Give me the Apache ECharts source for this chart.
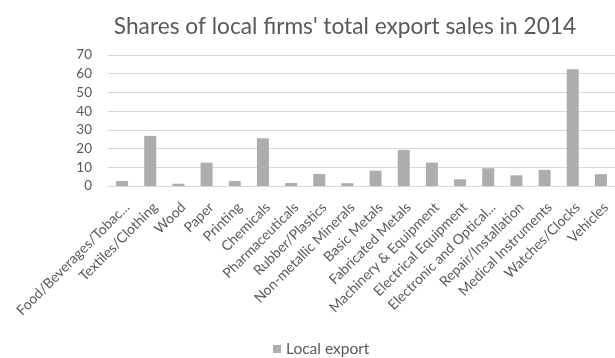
<!DOCTYPE html>
<html>
<head>
<meta charset="utf-8">
<script src="https://cdn.jsdelivr.net/npm/echarts@6/dist/echarts.min.js"></script>
<style>
  html, body { margin: 0; padding: 0; background: #fff; }
  #chart { width: 615px; height: 358px; }
</style>
</head>
<body>
<div id="chart"></div>
<script>
// Industry categories (long names shortened as in the axis labels)
const categories = [
  'Food/Beverages/Tobac...', 'Textiles/Clothing', 'Wood', 'Paper', 'Printing',
  'Chemicals', 'Pharmaceuticals', 'Rubber/Plastics', 'Non-metallic Minerals',
  'Basic Metals', 'Fabricated Metals', 'Machinery & Equipment',
  'Electrical Equipment', 'Electronic and Optical...', 'Repair/Installation',
  'Medical Instruments', 'Watches/Clocks', 'Vehicles'
];

// Share of total export sales going to local export, in percent
const localExport = [
  2.6, 26.8, 1.2, 12.5, 2.6, 25.5, 1.6, 6.4, 1.5,
  8.2, 19.3, 12.5, 3.6, 9.5, 5.7, 8.6, 62.4, 6.3
];

const yTicks = [0, 10, 20, 30, 40, 50, 60, 70];

const fontFamily = 'Lato, "Open Sans", sans-serif';
const textColor = '#595959';

const chart = echarts.init(document.getElementById('chart'), null, { renderer: 'canvas' });

chart.setOption({
  animation: false,
  backgroundColor: '#fff',
  title: {
    text: "Shares of local firms' total export sales in 2014",
    left: 340,
    textAlign: 'center',
    top: 10,
    textStyle: { fontFamily, fontSize: 22.7, fontWeight: 'normal', color: textColor }
  },
  legend: {
    data: ['Local export'],
    top: 336,
    left: 268,
    itemWidth: 8,
    itemHeight: 8,
    itemGap: 4,
    icon: 'rect',
    textStyle: { fontFamily, fontSize: 15.5, color: textColor }
  },
  grid: {
    left: 108,
    top: 55,
    width: 513,
    height: 131
  },
  xAxis: {
    type: 'category',
    data: categories,
    axisLine: { lineStyle: { color: '#d9d9d9', width: 1 } },
    axisTick: { show: false },
    axisLabel: {
      interval: 0,
      rotate: 45,
      margin: 14,
      verticalAlign: 'top',
      fontFamily,
      fontSize: 14,
      color: textColor
    }
  },
  yAxis: {
    type: 'value',
    min: yTicks[0],
    max: yTicks[yTicks.length - 1],
    interval: 10,
    axisLine: { show: false },
    axisTick: { show: false },
    splitLine: { lineStyle: { color: '#d9d9d9', width: 1 } },
    axisLabel: { margin: 16, fontFamily, fontSize: 13.5, color: textColor }
  },
  series: [{
    name: 'Local export',
    type: 'bar',
    data: localExport,
    barWidth: 12,
    itemStyle: { color: '#adadad' }
  }]
});
</script>
</body>
</html>
